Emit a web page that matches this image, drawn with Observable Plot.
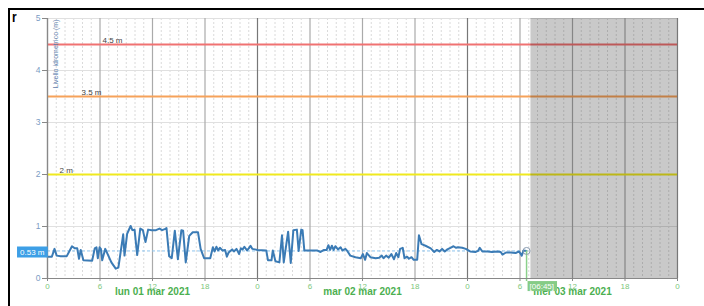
<!DOCTYPE html>
<html><head><meta charset="utf-8">
<script src="https://cdn.jsdelivr.net/npm/d3@7"></script>
<script src="https://cdn.jsdelivr.net/npm/@observablehq/plot@0.6"></script>
<style>
html,body{margin:0;padding:0;background:#fff;}
#wrap{position:relative;width:704px;height:306px;overflow:hidden;font-family:"Liberation Sans",Arial,sans-serif;}
#frame{position:absolute;left:8px;top:8px;width:720px;height:320px;border-top:2px solid #000;border-left:2px solid #000;pointer-events:none;}
#corner{position:absolute;left:12px;top:9px;font-weight:bold;font-size:15px;line-height:15px;color:#000;transform:scaleX(0.8);transform-origin:left top;}
svg{display:block}
</style></head><body><div id="wrap"><div id="chart"></div><div id="frame"></div><div id="corner">r</div></div>
<script>
// ---- data ----
const startISO = "2021-03-01T00:00:00Z";
const endISO = "2021-03-04T00:00:00Z";
const forecastStartISO = "2021-03-03T07:15:00Z";
const hours = [
0.0,0.5,0.8,1.05,1.5,2.2,2.8,3.1,3.4,3.6,3.8,4.1,5.1,5.4,5.6,5.75,5.95,6.1,6.25,6.6,7.3,7.8,8.1,8.5,8.65,8.8,9.1,9.5,9.7,9.95,
10.25,10.6,10.9,11.2,11.5,11.9,12.4,12.8,13.1,13.4,13.6,13.9,14.2,14.55,14.9,15.3,15.5,15.8,16.2,16.6,17.2,17.5,17.9,18.6,18.9,19.1,19.3,19.5,19.7,20.0,
20.3,20.5,20.7,21.1,21.3,21.6,21.9,22.1,22.3,22.5,22.8,23.0,23.2,23.4,23.7,24.0,
25.0,25.2,25.6,25.75,26.05,26.5,26.8,27.0,27.5,27.8,28.1,28.5,28.7,29.0,29.15,29.35,30.8,31.2,31.6,31.9,32.1,32.3,32.5,32.7,32.9,33.2,33.5,33.7,34.05,34.3,
34.6,35.2,35.8,36.05,36.3,36.5,36.9,37.5,37.9,38.2,38.4,38.7,39.0,39.3,39.6,39.85,40.1,40.3,40.6,40.8,41.1,41.3,41.6,41.85,42.25,42.45,42.75,43.2,43.8,44.2,
44.5,44.8,45.1,45.4,45.7,46.05,46.4,46.7,46.9,47.4,47.8,48.3,48.9,49.2,49.4,49.7,50.3,50.8,51.4,51.8,52.0,52.4,52.9,53.5,53.9,54.2,54.4,54.75
];
const levels = [
0.42,0.42,0.57,0.44,0.43,0.43,0.62,0.58,0.58,0.38,0.55,0.35,0.34,0.58,0.60,0.39,0.60,0.57,0.35,0.57,0.31,0.19,0.21,0.67,0.85,0.44,0.86,1.01,0.93,0.94,
0.45,0.96,0.93,0.70,0.94,0.93,0.93,0.96,0.93,0.95,0.97,0.43,0.39,0.92,0.37,0.93,0.92,0.31,0.82,0.89,0.89,0.57,0.39,0.39,0.60,0.52,0.61,0.54,0.59,0.54,
0.55,0.42,0.50,0.56,0.52,0.57,0.47,0.58,0.56,0.61,0.54,0.58,0.63,0.57,0.56,0.55,
0.54,0.35,0.35,0.54,0.33,0.31,0.83,0.31,0.90,0.30,0.93,0.94,0.53,0.94,0.93,0.54,0.54,0.51,0.55,0.55,0.64,0.55,0.63,0.55,0.62,0.56,0.60,0.54,0.57,0.52,
0.44,0.41,0.39,0.47,0.36,0.49,0.41,0.39,0.40,0.44,0.39,0.44,0.40,0.47,0.37,0.49,0.41,0.57,0.59,0.39,0.42,0.38,0.41,0.36,0.36,0.83,0.66,0.63,0.58,0.51,
0.55,0.52,0.57,0.52,0.56,0.59,0.62,0.59,0.60,0.59,0.57,0.52,0.51,0.53,0.59,0.52,0.52,0.51,0.52,0.51,0.46,0.50,0.50,0.49,0.52,0.44,0.54,0.53
];
const thresholds = [2, 3.5, 4.5];
const thresholdLabels = ["2 m", "3.5 m", "4.5 m"];
const yTicks = [0, 1, 2, 3, 4, 5];
const hourTickLabels = ["0", "6", "12", "18"];
const dayLabels = ["lun 01 mar 2021", "mar 02 mar 2021", "mer 03 mar 2021"];
const currentValue = 0.53;
const currentValueLabel = "0.53 m";
const lastTimeLabel = "[06:45]";
const yLabel = "Livello idrometrico (m)";

// ---- derived ----
const start = new Date(startISO), end = new Date(endISO);
const records = hours.map((h, i) => ({t: new Date(+start + h * 3600e3), v: levels[i]}));
const last = records[records.length - 1];
const hourly = d3.utcHour.range(start, new Date(+end + 1)).filter(d => d.getUTCHours() % 6 !== 0);
const sixH = d3.utcHour.every(6).range(start, new Date(+end + 1));
const minorMajor = sixH.filter(d => d.getUTCHours() !== 0);
const midnights = sixH.filter(d => d.getUTCHours() === 0);
const noons = d3.utcDay.range(start, end).map(d => d3.utcHour.offset(d, 12));

const thrStroke = ["#f0e91e", "#f6a25a", "#f07272"];
const thrDx = [12, 34, 55];

const plot = Plot.plot({
  width: 704, height: 306,
  marginLeft: 47, marginRight: 27, marginTop: 18, marginBottom: 28,
  style: {fontFamily: "'Liberation Sans', Arial, sans-serif", fontSize: "8px", background: "white"},
  x: {type: "utc", domain: [start, end]},
  y: {domain: [0, 5]},
  marks: [
    Plot.ruleX(hourly, {stroke: "#dadada", strokeDasharray: "2,2"}),
    Plot.ruleY(yTicks.slice(1), {stroke: "#e0e0e0"}),
    Plot.ruleX(minorMajor, {stroke: "#aaa", strokeWidth: 1.2}),
    Plot.ruleX(midnights, {stroke: "#777", strokeWidth: 1.2}),
    ...thresholds.map((t, i) => Plot.ruleY([t], {stroke: thrStroke[i], strokeWidth: 2})),
    ...thresholds.map((t, i) => Plot.text([t], {y: d => d, text: () => thresholdLabels[i], frameAnchor: "left", dx: thrDx[i], dy: -2, textAnchor: "start", lineAnchor: "bottom", fill: "#444", fontSize: 8})),
    Plot.ruleY([currentValue], {x1: () => start, x2: () => last.t, stroke: "#8ec5ee", strokeDasharray: "3,2"}),
    Plot.line(records, {x: "t", y: "v", stroke: "#3b7bb5", strokeWidth: 2}),
    Plot.rect([{x1: new Date(forecastStartISO), x2: end, y1: 0, y2: 5}], {x1: "x1", x2: "x2", y1: "y1", y2: "y2", fill: "#000", fillOpacity: 0.21}),
    Plot.ruleX([last], {x: "t", y1: "v", y2: () => 0, stroke: "#8bd08b", strokeWidth: 1.5, insetBottom: -3}),
    Plot.dot([last], {x: "t", y: "v", r: 3.5, stroke: "#8a9bb0", fill: "none", strokeWidth: 1}),
    Plot.ruleX([start], {stroke: "#888", strokeWidth: 1.2}),
    Plot.ruleY([0], {stroke: "#888", strokeWidth: 1.2}),
    Plot.axisY({ticks: yTicks, tickSize: 5, tickPadding: 2, tickFormat: d => String(d), stroke: "#888", fill: "#7b9cc4", color: "#7b9cc4", fontSize: 8.5, label: null}),
    Plot.axisX({ticks: sixH, tickSize: 3, tickPadding: 2, tickFormat: (d) => hourTickLabels[d.getUTCHours() / 6], stroke: "#888", fill: "#7cc77c", color: "#7cc77c", fontSize: 8, label: null}),
    Plot.text(noons, {x: d => d, text: (d, i) => dayLabels[i], frameAnchor: "bottom", dy: 13, lineAnchor: "middle", fontWeight: "bold", fontSize: 10, fill: "#4caf50"}),
    Plot.text([yLabel], {text: d => d, frameAnchor: "top-left", dx: 8.5, dy: 1, rotate: -90, textAnchor: "end", lineAnchor: "middle", fill: "#5e80ad", fontSize: 7}),
    Plot.text([currentValue], {y: d => d, text: () => currentValueLabel, frameAnchor: "left", textAnchor: "end", dx: -3, dy: 1, fill: "white", fontSize: 8}),
    Plot.text([last], {x: "t", text: () => lastTimeLabel, frameAnchor: "bottom", dy: 7.5, textAnchor: "start", dx: 3, lineAnchor: "middle", fill: "white", fontSize: 8})
  ]
});
document.getElementById("chart").appendChild(plot);

function addBg(label, fill, padL, padR, padT, padB) {
  d3.select(plot).selectAll("text").filter(function () { return this.textContent === label; }).each(function () {
    const b = this.getBBox();
    const r = document.createElementNS("http://www.w3.org/2000/svg", "rect");
    r.setAttribute("x", b.x - padL); r.setAttribute("y", b.y - padT);
    r.setAttribute("width", b.width + padL + padR); r.setAttribute("height", b.height + padT + padB);
    r.setAttribute("fill", fill);
    const tr = this.getAttribute("transform"); if (tr) r.setAttribute("transform", tr);
    this.parentNode.insertBefore(r, this);
  });
}
addBg(currentValueLabel, "#3d9fe6", 3, 3, 1, 1);
addBg(lastTimeLabel, "#86cc86", 2, 3, 0.5, 0.5);
</script></body></html>
